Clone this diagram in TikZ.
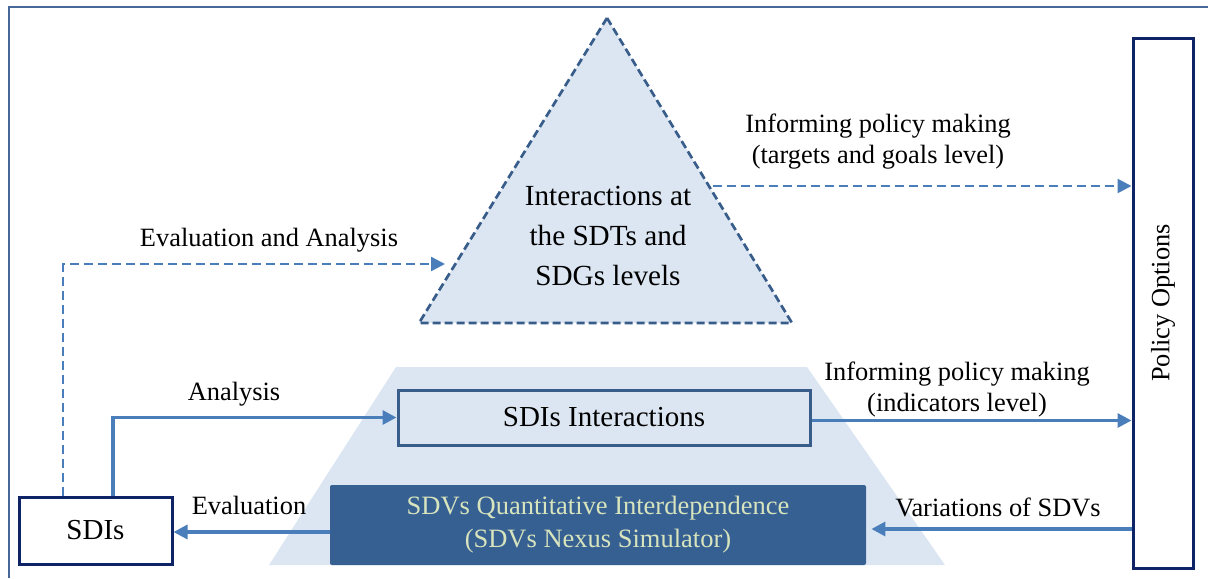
\documentclass[tikz,border=0pt]{standalone}
\usepackage{fontspec}
\setmainfont{Liberation Serif}
\usetikzlibrary{arrows.meta, positioning, calc}
\definecolor{paleblue}{HTML}{DCE6F2}
\definecolor{midblue}{HTML}{385D8A}
\definecolor{arrowblue}{HTML}{4A7EBB}
\definecolor{navyline}{HTML}{0F2466}
\definecolor{simblue}{HTML}{376092}
\definecolor{simtext}{HTML}{D7E4BD}
\definecolor{framecol}{HTML}{46679A}

\begin{document}
\begin{tikzpicture}[x=0.5pt, y=-0.5pt,
    box/.style={draw=navyline,
      line width=1.5pt,
      fill=white,
      inner sep=0pt,
      align=center,
      font=\fontsize{14.5}{17}\selectfont},
    flow/.style={draw=arrowblue,
      line width=1.6pt,
      -{Triangle[length=7pt,width=7pt]}},
    dashflow/.style={draw=arrowblue,
      line width=1.2pt,
      dash pattern=on 4.5pt off 2.5pt,
      -{Triangle[length=7pt,width=7pt]}},
    lbl/.style={font=\fontsize{13.2}{15.5}\selectfont,
      align=center,
      inner sep=0pt}]

  \useasboundingbox (0,0) rectangle (1208,578);

  % FRAME

  \draw[framecol, line width=1.4pt] (9,578) -- (9,7) -- (1208,7);

  % PYRAMID

  \fill[paleblue] (396,367) -- (807,367) -- (945,565) -- (269,565) -- cycle;

  \coordinate (apex) at (607,18);
  \coordinate (baseL) at (419,323);
  \coordinate (baseR) at (792,323);
  \draw[midblue,
    fill=paleblue,
    line width=1.35pt,
    dash pattern=on 4pt off 2pt] (apex) -- (baseR) -- (baseL) -- cycle;

  \node [lbl,
    font=\fontsize{14.6}{20}\selectfont] (tritext) at (608,236) {
    Interactions at\\the SDTs and\\SDGs levels
  };

  % BOXES

  \node [box,
    minimum width=76.5pt,
    minimum height=33.5pt] (sdis) at (95.5,530.5) {SDIs};

  \node [box,
    minimum width=30pt,
    minimum height=265pt] (policy) at (1163,303) {};
  \node [lbl,
    rotate=90] (policytext) at (policy.center) {Policy Options};

  \node [box,
    draw=midblue,
    fill=paleblue,
    minimum width=206pt,
    minimum height=27.5pt] (sdiint) at (604,417.5) {SDIs Interactions};

  \node [lbl,
    fill=simblue,
    text=simtext,
    rounded corners=1pt,
    minimum width=268pt,
    minimum height=40pt,
    font=\fontsize{13.25}{16.5}\selectfont] (sdvs) at (598,525) {
    SDVs Quantitative Interdependence\\(SDVs Nexus Simulator)
  };

  % ARROWS

  \coordinate (eatip) at (445,264);
  \draw[dashflow] ([xshift=-16.25pt]sdis.north) |- (eatip);

  \draw[flow] ([xshift=8.75pt]sdis.north) |- (sdiint.west);

  \coordinate (tristart) at (713,186);
  \draw[dashflow] (tristart) -- (tristart -| policy.west);

  \coordinate (indstart) at ([yshift=-1.5pt]sdiint.east);
  \draw[flow] (indstart) -- (indstart -| policy.west);

  \coordinate (vartip) at ([xshift=2.5pt, yshift=-2pt]sdvs.east);
  \draw[flow] (vartip -| policy.west) -- (vartip);

  \coordinate (evalstart) at ([yshift=-3.5pt]sdvs.west);
  \draw[flow] (evalstart) -- (evalstart -| sdis.east);

  % LABELS

  \node [lbl] (ealabel) at (269,240) {Evaluation and Analysis};
  \node [lbl] (analabel) at (234,394) {Analysis};
  \node [lbl] (evallabel) at (249,505) {Evaluation};
  \node [lbl] (varlabel) at (998,507) {Variations of SDVs};
  \node [lbl] (toplabel) at (878,142) {
    Informing policy making\\(targets and goals level)
  };
  \node [lbl] (indlabel) at (957,390) {
    Informing policy making\\(indicators level)
  };

\end{tikzpicture}
\end{document}
